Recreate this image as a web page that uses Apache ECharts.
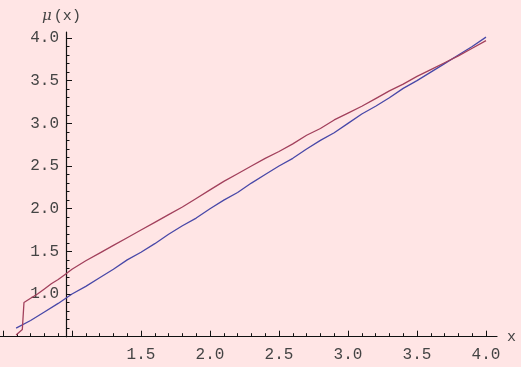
<!DOCTYPE html>
<html>
<head>
<meta charset="utf-8">
<script src="https://cdn.jsdelivr.net/npm/echarts@6/dist/echarts.min.js"></script>
<style>
html,body{margin:0;padding:0;background:#ffe5e5;}
#c{width:521px;height:367px;}
</style>
</head>
<body>
<div id="c"></div>
<script>
// Data
const blueX = [0.595, 0.7, 0.8, 0.9, 1.0, 1.1, 1.2, 1.3, 1.4, 1.5, 1.6, 1.7, 1.8, 1.9, 2.0, 2.1, 2.2, 2.3, 2.4, 2.5, 2.6, 2.7, 2.8, 2.9, 3.0, 3.1, 3.2, 3.3, 3.4, 3.5, 3.6, 3.7, 3.8, 3.9, 4.0];
const blueY = [0.60, 0.69, 0.79, 0.89, 1.00, 1.09, 1.19, 1.29, 1.40, 1.49, 1.59, 1.70, 1.80, 1.89, 2.00, 2.10, 2.19, 2.30, 2.40, 2.50, 2.59, 2.70, 2.80, 2.89, 3.00, 3.11, 3.20, 3.30, 3.41, 3.50, 3.60, 3.70, 3.80, 3.90, 4.01];
const redX = [0.595, 0.64, 0.652, 0.7, 0.75, 0.8, 0.85, 0.9, 0.95, 1.0, 1.1, 1.2, 1.3, 1.4, 1.5, 1.6, 1.7, 1.8, 1.9, 2.0, 2.1, 2.2, 2.3, 2.4, 2.5, 2.6, 2.7, 2.8, 2.9, 3.0, 3.1, 3.2, 3.3, 3.4, 3.5, 3.6, 3.7, 3.8, 3.9, 4.0];
const redY = [0.52, 0.585, 0.90, 0.95, 1.00, 1.06, 1.12, 1.17, 1.23, 1.29, 1.39, 1.48, 1.57, 1.66, 1.75, 1.84, 1.93, 2.02, 2.12, 2.22, 2.32, 2.41, 2.50, 2.59, 2.67, 2.76, 2.86, 2.94, 3.04, 3.12, 3.20, 3.29, 3.38, 3.46, 3.55, 3.63, 3.71, 3.79, 3.88, 3.97];
const xTickLabels = ['1.5', '2.0', '2.5', '3.0', '3.5', '4.0'];
const yTickLabels = ['1.0', '1.5', '2.0', '2.5', '3.0', '3.5', '4.0'];
const xName = 'x';
const yNameSymbol = 'μ';
const yNameArg = '(x)';

const blueData = blueX.map((x, i) => [x, blueY[i]]);
const redData = redX.map((x, i) => [x, redY[i]]);

const monoFont = 'Liberation Mono';
const txtColor = '#444';
const axisColor = '#111';

const chart = echarts.init(document.getElementById('c'), null, {renderer: 'canvas'});
const gTop = 38, gH = 298.7;
chart.setOption({
  animation: false,
  backgroundColor: '#ffe5e5',
  grid: [
    {left: -4, top: gTop, width: 490, height: gH},
    {left: 66, top: gTop, width: 10, height: gH},
    {left: -4, top: gTop, width: 501, height: gH},
    {left: 66, top: 32, width: 10, height: gH + 6}
  ],
  xAxis: [
    {
      gridIndex: 0, type: 'value', min: 0.5, max: 4.0, interval: 0.5,
      axisLine: {show: false},
      splitLine: {show: false},
      axisTick: {show: true, inside: true, length: 6, lineStyle: {color: axisColor, width: 1}},
      minorTick: {show: true, splitNumber: 5, length: 3.5, lineStyle: {color: axisColor, width: 1}},
      axisLabel: {
        margin: 10, color: txtColor, fontFamily: monoFont, fontSize: 16,
        formatter: v => { const s = v.toFixed(1); return xTickLabels.indexOf(s) >= 0 ? s : ''; }
      }
    },
    {gridIndex: 1, type: 'value', show: false},
    {
      gridIndex: 2, type: 'value', min: 0, max: 1,
      axisLine: {show: true, lineStyle: {color: axisColor, width: 1.2}},
      axisTick: {show: false}, axisLabel: {show: false}, splitLine: {show: false},
      name: xName, nameLocation: 'end', nameGap: 10,
      nameTextStyle: {fontFamily: monoFont, fontSize: 15, color: txtColor, padding: [9, 0, 0, 0]}
    },
    {gridIndex: 3, type: 'value', show: false}
  ],
  yAxis: [
    {gridIndex: 0, type: 'value', min: 0.5, max: 4.0, show: false},
    {
      gridIndex: 1, type: 'value', min: 0.5, max: 4.0, interval: 0.5,
      axisLine: {show: false},
      splitLine: {show: false},
      axisTick: {show: true, inside: true, length: 6, lineStyle: {color: axisColor, width: 1}},
      minorTick: {show: true, splitNumber: 5, length: 3.5, lineStyle: {color: axisColor, width: 1}},
      axisLabel: {
        margin: 7, color: txtColor, fontFamily: monoFont, fontSize: 16,
        formatter: v => { const s = v.toFixed(1); return yTickLabels.indexOf(s) >= 0 ? s : ''; }
      }
    },
    {gridIndex: 2, type: 'value', show: false},
    {
      gridIndex: 3, type: 'value', min: 0, max: 1,
      axisLine: {show: true, lineStyle: {color: axisColor, width: 1.2}},
      axisTick: {show: false}, axisLabel: {show: false}, splitLine: {show: false},
      name: '{m|' + yNameSymbol + '}{p|' + yNameArg + '}',
      nameLocation: 'end', nameGap: 8,
      nameTextStyle: {
        padding: [0, 9, 0, 0],
        rich: {
          m: {fontFamily: 'DejaVu Serif', fontStyle: 'italic', fontSize: 15, color: txtColor, padding: [0, 2, 0, 0]},
          p: {fontFamily: monoFont, fontSize: 15, color: txtColor}
        }
      }
    }
  ],
  series: [
    {
      type: 'line', xAxisIndex: 0, yAxisIndex: 0, data: blueData,
      showSymbol: false, clip: false,
      lineStyle: {color: '#4848a8', width: 1.3}
    },
    {
      type: 'line', xAxisIndex: 0, yAxisIndex: 0, data: redData,
      showSymbol: false, clip: false,
      lineStyle: {color: '#a2405c', width: 1.3}
    }
  ]
});
</script>
</body>
</html>
